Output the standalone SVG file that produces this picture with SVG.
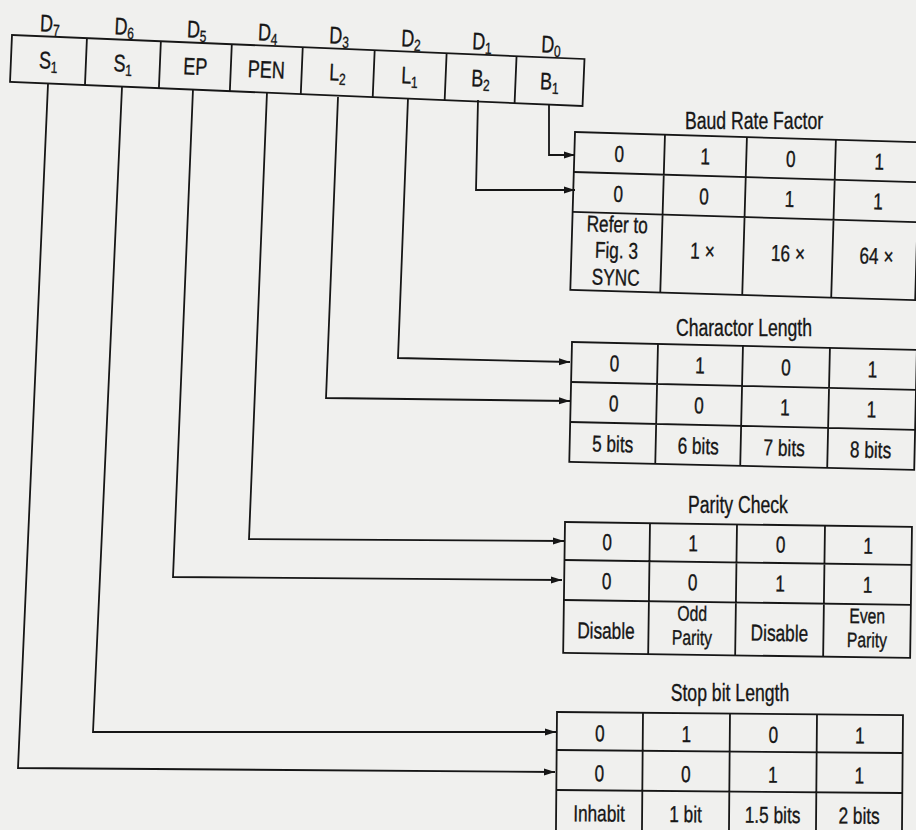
<svg xmlns="http://www.w3.org/2000/svg" width="916" height="830" viewBox="0 0 916 830">
<defs>
<style>
.bg{fill:#f0f0ee}
.box{fill:none;stroke:#161616;stroke-width:1.8}
.ln{fill:none;stroke:#161616;stroke-width:1.8}
.wire{fill:none;stroke:#161616;stroke-width:1.8;stroke-linejoin:miter}
text{font-family:"Liberation Sans",Arial,"DejaVu Sans",sans-serif;fill:#161616;stroke:#161616;stroke-width:0.35;text-anchor:middle}
.t{font-size:23px}
.t2{font-size:21px}
.title{font-size:23.5px}
.reg{font-size:24px}
.sub{font-size:16px}
</style>
<marker id="arr" markerUnits="userSpaceOnUse" markerWidth="11" markerHeight="8" refX="11" refY="4" orient="auto"><path d="M0,0.5 L11,4 L0,7.5 z" fill="#161616"/></marker>
</defs>
<rect class="bg" x="0" y="0" width="916" height="830"/>

<g id="register" transform="translate(12,35) rotate(2.4)">
<rect class="box" x="0" y="0" width="573" height="47"/>
<path class="ln" d="M75,0V47M149,0V47M220,0V47M291,0V47M363,0V47M435,0V47M505,0V47"/>
<g transform="scale(0.75,1)">
<g id="bit-d7"><text class="reg" x="50" y="-5">D<tspan class="sub" dy="4">7</tspan></text><text class="reg" x="50" y="32">S<tspan class="sub" dy="4">1</tspan></text></g>
<g id="bit-d6"><text class="reg" x="149.33" y="-5">D<tspan class="sub" dy="4">6</tspan></text><text class="reg" x="149.33" y="32">S<tspan class="sub" dy="4">1</tspan></text></g>
<g id="bit-d5"><text class="reg" x="246" y="-5">D<tspan class="sub" dy="4">5</tspan></text><text class="reg" x="246" y="32">EP</text></g>
<g id="bit-d4"><text class="reg" x="340.67" y="-5">D<tspan class="sub" dy="4">4</tspan></text><text class="reg" x="340.67" y="32">PEN</text></g>
<g id="bit-d3"><text class="reg" x="436" y="-5">D<tspan class="sub" dy="4">3</tspan></text><text class="reg" x="436" y="32">L<tspan class="sub" dy="4">2</tspan></text></g>
<g id="bit-d2"><text class="reg" x="532" y="-5">D<tspan class="sub" dy="4">2</tspan></text><text class="reg" x="532" y="32">L<tspan class="sub" dy="4">1</tspan></text></g>
<g id="bit-d1"><text class="reg" x="626.67" y="-5">D<tspan class="sub" dy="4">1</tspan></text><text class="reg" x="626.67" y="32">B<tspan class="sub" dy="4">2</tspan></text></g>
<g id="bit-d0"><text class="reg" x="718.67" y="-5">D<tspan class="sub" dy="4">0</tspan></text><text class="reg" x="718.67" y="32">B<tspan class="sub" dy="4">1</tspan></text></g>
</g>
</g>

<g id="connectors">
<polyline class="wire" marker-end="url(#arr)" points="549,104 549,155 575,155"/>
<polyline class="wire" marker-end="url(#arr)" points="478,100 476,190 575,190"/>
<polyline class="wire" marker-end="url(#arr)" points="408,98 398,358 570,362"/>
<polyline class="wire" marker-end="url(#arr)" points="338,97 326,398 570,401"/>
<polyline class="wire" marker-end="url(#arr)" points="267,92 249,539 564,541"/>
<polyline class="wire" marker-end="url(#arr)" points="193,89 173,577 562,580"/>
<polyline class="wire" marker-end="url(#arr)" points="122,87 93,732 556,732"/>
<polyline class="wire" marker-end="url(#arr)" points="48,84 18,768 555,772"/>
</g>

<g id="baud-rate-factor">
<g transform="scale(0.75,1)"><text class="title" x="1005.33" y="129">Baud Rate Factor</text></g>
<g transform="translate(575,132) rotate(1.7)">
<rect class="box" x="0" y="0" width="345" height="158"/>
<path class="ln" d="M0,40H345M0,80H345M90,0V158M172,0V158M261,0V158"/>
<g transform="scale(0.75,1)">
<text class="t" x="60" y="28.5">0</text><text class="t" x="174.67" y="28.5">1</text><text class="t" x="288.67" y="28.5">0</text><text class="t" x="406.67" y="28.5">1</text>
<text class="t" x="60" y="68.5">0</text><text class="t" x="174.67" y="68.5">0</text><text class="t" x="288.67" y="68.5">1</text><text class="t" x="406.67" y="68.5">1</text>
<text class="t" x="60" y="99">Refer to</text><text class="t" x="60" y="125">Fig. 3</text><text class="t" x="60" y="152">SYNC</text>
<text class="t" x="174.67" y="123">1 ×</text><text class="t" x="288.67" y="123">16 ×</text><text class="t" x="406.67" y="123">64 ×</text>
</g>
</g>
</g>

<g id="charactor-length">
<g transform="scale(0.75,1)"><text class="title" x="992" y="336">Charactor Length</text></g>
<g transform="translate(572,342) rotate(1.3)">
<rect class="box" x="0" y="0" width="345" height="120"/>
<path class="ln" d="M0,40H345M0,80H345M86,0V120M171,0V120M258,0V120"/>
<g transform="scale(0.75,1)">
<text class="t" x="57.33" y="28.5">0</text><text class="t" x="171.33" y="28.5">1</text><text class="t" x="286" y="28.5">0</text><text class="t" x="401.33" y="28.5">1</text>
<text class="t" x="57.33" y="68.5">0</text><text class="t" x="171.33" y="68.5">0</text><text class="t" x="286" y="68.5">1</text><text class="t" x="401.33" y="68.5">1</text>
<text class="t" x="57.33" y="109">5 bits</text><text class="t" x="171.33" y="109">6 bits</text><text class="t" x="286" y="109">7 bits</text><text class="t" x="401.33" y="109">8 bits</text>
</g>
</g>
</g>

<g id="parity-check">
<g transform="scale(0.75,1)"><text class="title" x="984" y="513">Parity Check</text></g>
<g transform="translate(565,522) rotate(0.8)">
<rect class="box" x="0" y="0" width="347" height="131"/>
<path class="ln" d="M0,38H347M0,78H347M85,0V131M172,0V131M260,0V131"/>
<g transform="scale(0.75,1)">
<text class="t" x="56.67" y="27.5">0</text><text class="t" x="171.33" y="27.5">1</text><text class="t" x="288" y="27.5">0</text><text class="t" x="404.67" y="27.5">1</text>
<text class="t" x="56.67" y="66.5">0</text><text class="t" x="171.33" y="66.5">0</text><text class="t" x="288" y="66.5">1</text><text class="t" x="404.67" y="66.5">1</text>
<text class="t" x="56.67" y="116">Disable</text>
<text class="t2" x="171.33" y="97">Odd</text><text class="t2" x="171.33" y="121">Parity</text>
<text class="t" x="288" y="116">Disable</text>
<text class="t2" x="404.67" y="97">Even</text><text class="t2" x="404.67" y="121">Parity</text>
</g>
</g>
</g>

<g id="stop-bit-length">
<g transform="scale(0.75,1)"><text class="title" x="973.33" y="701">Stop bit Length</text></g>
<g transform="translate(557,712) rotate(0.5)">
<rect class="box" x="0" y="0" width="346" height="119"/>
<path class="ln" d="M0,38H346M0,78H346M86,0V119M173,0V119M260,0V119"/>
<g transform="scale(0.75,1)">
<text class="t" x="57.33" y="29">0</text><text class="t" x="172.67" y="29">1</text><text class="t" x="288.67" y="29">0</text><text class="t" x="404" y="29">1</text>
<text class="t" x="57.33" y="69">0</text><text class="t" x="172.67" y="69">0</text><text class="t" x="288.67" y="69">1</text><text class="t" x="404" y="69">1</text>
<text class="t" x="57.33" y="109">Inhabit</text><text class="t" x="172.67" y="109">1 bit</text><text class="t" x="288.67" y="109">1.5 bits</text><text class="t" x="404" y="109">2 bits</text>
</g>
</g>
</g>
</svg>
